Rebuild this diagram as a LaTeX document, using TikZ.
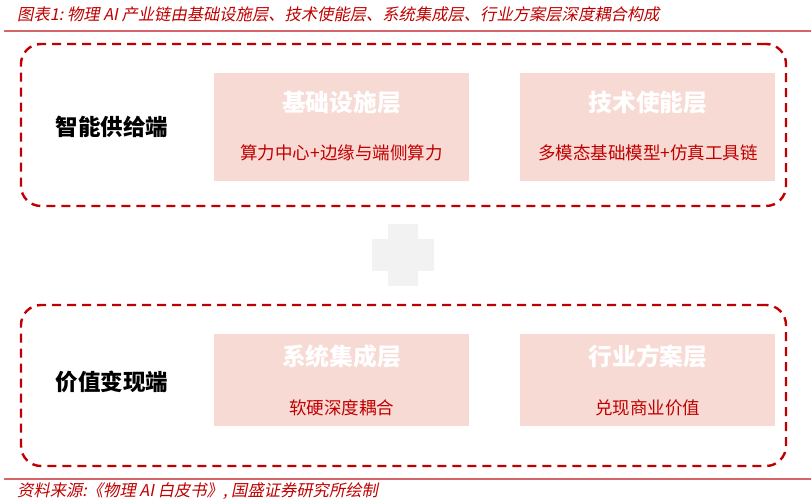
\documentclass[tikz,border=0pt]{standalone}
\usepackage{fontspec}
\setmainfont{Noto Sans CJK SC}
\newfontfamily\capfont{Noto Sans CJK SC}[FakeSlant=0.2]
\usetikzlibrary{positioning}
\definecolor{darkred}{RGB}{192,0,0}
\definecolor{rulered}{RGB}{214,100,104}
\definecolor{layerpink}{RGB}{248,218,212}
\definecolor{plusgray}{RGB}{242,242,242}
\tikzstyle{caption}=[anchor=west, inner sep=0, text=darkred, font=\capfont\fontsize{16.3}{18}\selectfont]
\tikzstyle{group}=[rectangle, rounded corners=20pt, draw=darkred, line width=2.4pt, dash pattern=on 9pt off 6pt, minimum width=765pt]
\tikzstyle{layer}=[rectangle, fill=layerpink, minimum width=255pt, inner sep=0]
\tikzstyle{ltitle}=[inner sep=0, text=white, font=\bfseries\fontsize{23.8}{26}\selectfont]
\tikzstyle{lsub}=[inner sep=0, text=darkred, font=\fontsize{17.5}{20}\selectfont]
\tikzstyle{side}=[inner sep=0, text=black, font=\bfseries\fontsize{22.5}{25}\selectfont]
\tikzstyle{plusbar}=[rectangle, fill=plusgray, inner sep=0]

\begin{document}
\begin{tikzpicture}[x=1pt, y=-1pt]
            \useasboundingbox (0,0) rectangle (811,503);
            % caption and rules
            \node[caption](cap) at (17,14){图表1:\ 物理 AI 产业链由基础设施层、技术使能层、系统集成层、行业方案层深度耦合构成};
            \draw[rulered, line width=1.2pt] (4,31) -- (811,31);
            \draw[rulered, line width=1.6pt] (4,479) -- (811,479);
            \node[caption](src) at (17,491){资料来源:《物理 AI 白皮书》, 国盛证券研究所绘制};
            % supply side
            \node[group, minimum height=162pt](sup) at (403.5,125){};
            \node[side](supl) at (112,127){智能供给端};
            \node[layer, minimum height=108pt](jc) at (341.5,127){};
            \node[layer, minimum height=108pt, right = 51pt of jc](js){};
            \node[ltitle](jct) at ([yshift=-30pt]jc.north){基础设施层};
            \node[lsub](jcs) at ([yshift=28pt]jc.south){算力中心+边缘与端侧算力};
            \node[ltitle](jst) at ([yshift=-30pt]js.north){技术使能层};
            \node[lsub](jss) at ([yshift=28pt]js.south){多模态基础模型+仿真工具链};
            % plus
            \node[plusbar, minimum width=62pt, minimum height=32pt](plush) at (403,255){};
            \node[plusbar, minimum width=30pt, minimum height=62pt](plusv) at (403,255){};
            % value side
            \node[group, minimum height=161pt](val) at (403.5,385.5){};
            \node[side](vall) at (112,382){价值变现端};
            \node[layer, minimum height=92pt](xt) at (341.5,380){};
            \node[layer, minimum height=92pt, right = 51pt of xt](hy){};
            \node[ltitle](xtt) at ([yshift=-23pt]xt.north){系统集成层};
            \node[lsub](xts) at ([yshift=18pt]xt.south){软硬深度耦合};
            \node[ltitle](hyt) at ([yshift=-23pt]hy.north){行业方案层};
            \node[lsub](hys) at ([yshift=18pt]hy.south){兑现商业价值};
        \end{tikzpicture}
\end{document}
